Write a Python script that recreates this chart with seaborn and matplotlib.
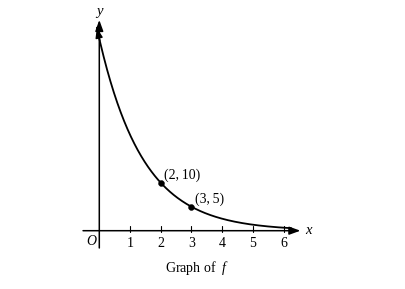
import numpy as np
import pandas as pd
import matplotlib
matplotlib.use("Agg")
import matplotlib.pyplot as plt
import seaborn as sns

# Data
a0 = 40.0          # f(0)
base = 0.5         # decay factor
x_start, x_end = -0.08, 6.25
pts_x = [2, 3]
pts_y = [10, 5]
pt_labels = ["(2,\u200910)", "(3,\u20095)"]
xticks = [1, 2, 3, 4, 5, 6]

sns.set_theme(style="white")
plt.rcParams['font.family'] = ['Liberation Serif', 'DejaVu Serif']
plt.rcParams['mathtext.fontset'] = 'custom'
plt.rcParams['mathtext.it'] = 'Liberation Serif:italic'
plt.rcParams['mathtext.rm'] = 'Liberation Serif'

W, H = 406, 289
fig = plt.figure(figsize=(W / 100, H / 100), dpi=100)
ax = fig.add_axes([0, 0, 1, 1])
# pixel mapping: x_px = 99.3 + 30.7*x ; y_px = 230.7 - 4.8*y
px_x0, sx = 99.3, 30.7
px_y0, sy = 230.7, 4.8
ax.set_xlim(-px_x0 / sx, (W - px_x0) / sx)
ax.set_ylim((px_y0 - H) / sy, px_y0 / sy)
ax.axis('off')

xs = np.linspace(x_start, x_end, 400)
df = pd.DataFrame({"x": xs, "y": a0 * base ** xs})
sns.lineplot(data=df, x="x", y="y", ax=ax, color="black", lw=1.3, sort=False)

# arrowhead at top of curve
ax.annotate("", xy=(df.x.iloc[0], df.y.iloc[0]), xytext=(df.x.iloc[6], df.y.iloc[6]),
            arrowprops=dict(arrowstyle="-|>,head_length=0.5,head_width=0.18",
                            color="black", lw=1.0, shrinkA=0, shrinkB=0))

# axes lines with arrows
ax.annotate("", xy=(6.55, 0), xytext=(-0.53, 0),
            arrowprops=dict(arrowstyle="-|>,head_length=0.55,head_width=0.2",
                            color="black", lw=1.1, shrinkA=0, shrinkB=0))
ax.annotate("", xy=(0, 43.9), xytext=(0, -3.6),
            arrowprops=dict(arrowstyle="-|>,head_length=0.55,head_width=0.2",
                            color="black", lw=1.1, shrinkA=0, shrinkB=0))

# ticks
for t in xticks:
    ax.plot([t, t], [-0.2, 1.0], color="black", lw=0.8)
    ax.text(t, -2.7, str(t), ha="center", va="center", fontsize=10, color="black")

pdf = pd.DataFrame({"x": pts_x, "y": pts_y})
sns.scatterplot(data=pdf, x="x", y="y", ax=ax, color="black", s=18, edgecolor="black", zorder=5)
for x, y, lab in zip(pts_x, pts_y, pt_labels):
    ax.text(x + 0.12, y + 1.6, lab, ha="left", va="center", fontsize=10, color="black")

ax.text(-0.25, -2.3, "O", ha="center", va="center", fontsize=10, style="italic", color="black")
ax.text(6.72, 0.1, "x", ha="left", va="center", fontsize=10.5, style="italic", color="black")
ax.text(0, 45.6, "y", ha="center", va="center", fontsize=10.5, style="italic", color="black")
ax.text(3.17, -7.8, "Graph of  $f$", ha="center", va="center", fontsize=10, color="black")

fig.savefig("out.png", dpi=100)
